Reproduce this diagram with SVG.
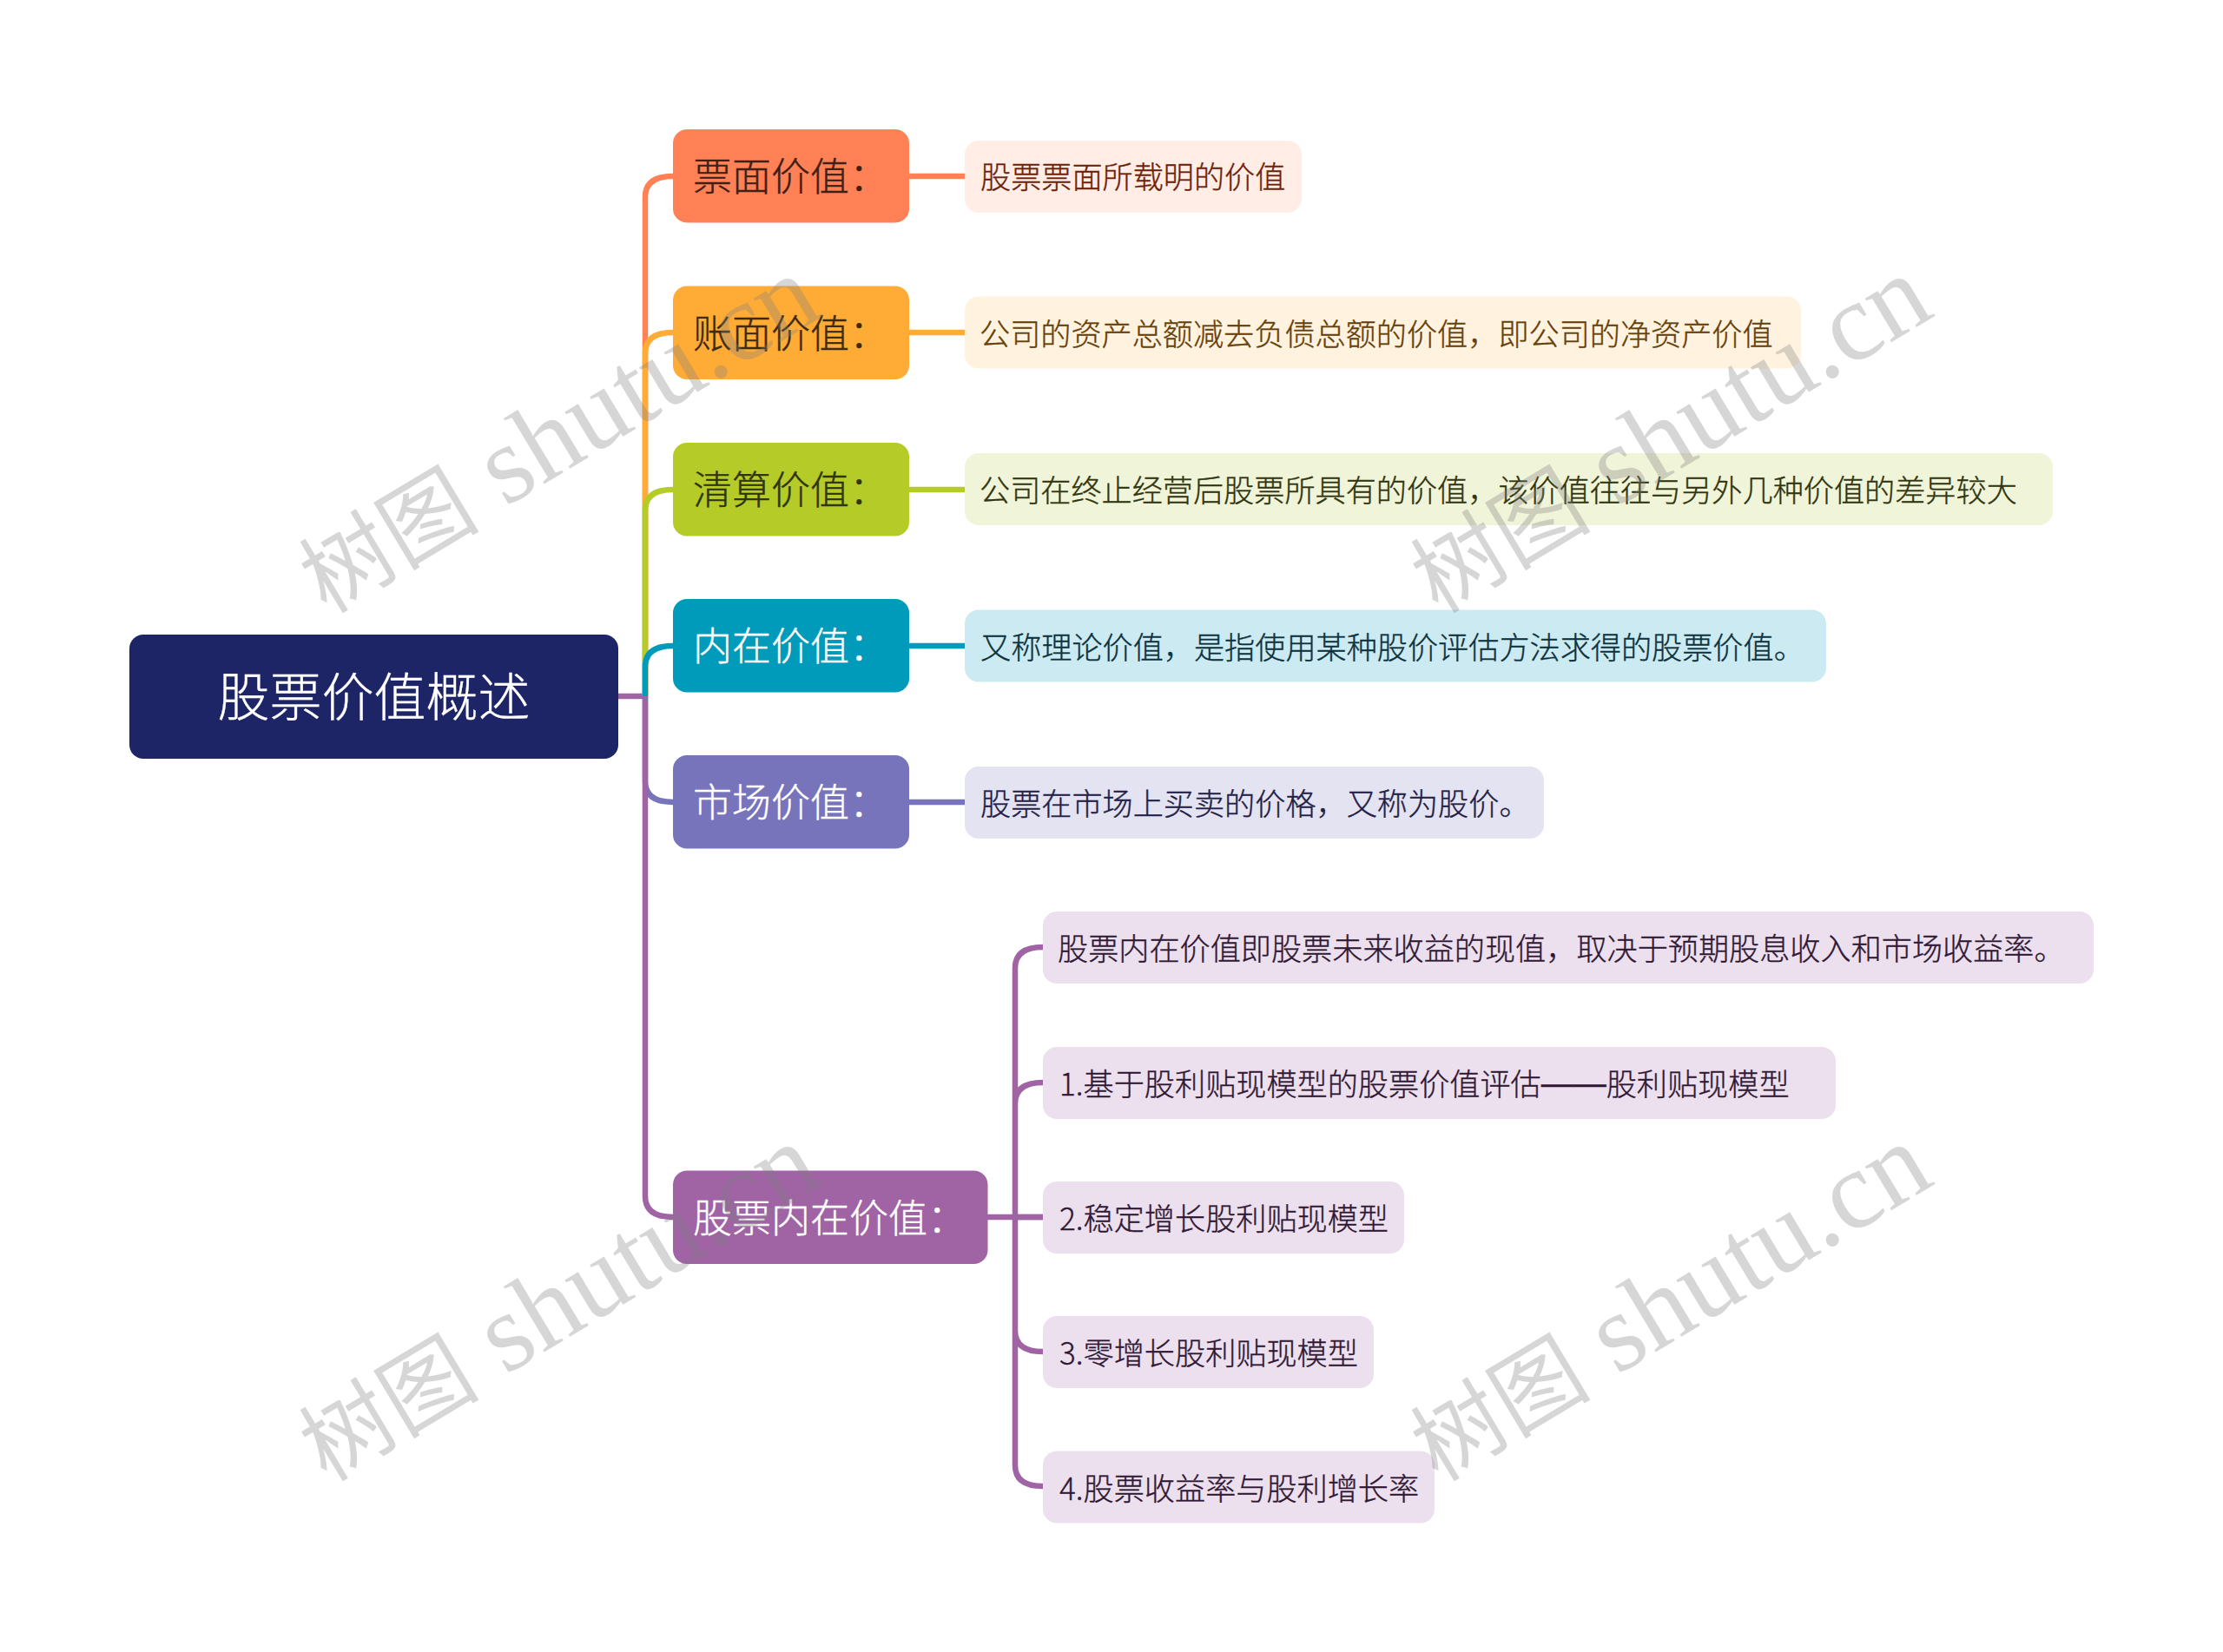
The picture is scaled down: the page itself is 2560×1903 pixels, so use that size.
<svg xmlns="http://www.w3.org/2000/svg" width="2560" height="1903" viewBox="0 0 2560 1903">
<style>
text{font-family:"Noto Sans CJK SC","Noto Sans",sans-serif;font-weight:300;dominant-baseline:central;stroke-width:.35px}
.l1{font-size:45px;stroke:currentColor}.l2{font-size:35.15px}.root{font-size:60px;fill:#fff;stroke:#fff}
.l2{stroke:currentColor}
.c{fill:none;stroke-width:6.5}
.dash{font-family:"Liberation Sans",sans-serif;font-size:37.5px}
.wm{font-family:"Liberation Serif",serif;font-size:128px;fill:#808080;fill-opacity:.32;font-weight:400;dominant-baseline:auto;stroke-width:0}
.wm tspan{font-family:"Noto Sans CJK SC",serif;font-size:104px;font-weight:400}
</style>
<rect width="2560" height="1903" fill="#fff"/>
<g id="connectors">
<path class="c" stroke="#A064A5" d="M712 802H741"/>
<path class="c" stroke="#FF8155" d="M743 802V227Q743 203 775 203M1047 203H1111"/>
<path class="c" stroke="#FFAC37" d="M743 802V407Q743 383 775 383M1047 383H1111"/>
<path class="c" stroke="#B5CB27" d="M743 802V588Q743 564 775 564M1047 564H1111"/>
<path class="c" stroke="#009ABA" d="M743 802V768Q743 744 775 744M1047 744H1111"/>
<path class="c" stroke="#7874BB" d="M743 802V900Q743 924 775 924M1047 924H1111"/>
<path class="c" stroke="#A064A5" d="M743 802V1378Q743 1402 775 1402M1137 1402H1201"/>
<path class="c" stroke="#A064A5" d="M1169 1402V1115Q1169 1091 1201 1091M1169 1402V1271Q1169 1247 1201 1247M1169 1402H1201M1169 1402V1533Q1169 1557 1201 1557M1169 1402V1688Q1169 1712 1201 1712"/>
</g>
<g id="root"><rect x="149" y="731" width="563" height="143" rx="16" fill="#1E2566"/><text class="root" x="430.500" y="798" text-anchor="middle">股票价值概述</text></g>
<g id="n1"><rect x="775" y="149" width="272" height="107.500" rx="16" fill="#FF8155"/><text class="l1" x="798" y="200" color="#3E2015" fill="#3E2015">票面价值：</text></g>
<g id="n1a"><rect x="1111" y="162" width="388" height="83" rx="16" fill="#FFEDE6"/><text class="l2" x="1129" y="201.500" color="#6E1F08" fill="#6E1F08">股票票面所载明的价值</text></g>
<g id="n2"><rect x="775" y="329.500" width="272" height="107.500" rx="16" fill="#FFAC37"/><text class="l1" x="798" y="381" color="#3E2A0E" fill="#3E2A0E">账面价值：</text></g>
<g id="n2a"><rect x="1111" y="341.500" width="963" height="83" rx="16" fill="#FFF3E0"/><text class="l2" x="1128" y="382" color="#673F08" fill="#673F08">公司的资产总额减去负债总额的价值，即公司的净资产价值</text></g>
<g id="n3"><rect x="775" y="510" width="272" height="107.500" rx="16" fill="#B5CB27"/><text class="l1" x="798" y="561" color="#30350F" fill="#30350F">清算价值：</text></g>
<g id="n3a"><rect x="1111" y="522" width="1253" height="83" rx="16" fill="#F0F4D8"/><text class="l2" x="1128" y="562.500" color="#30350F" fill="#30350F">公司在终止经营后股票所具有的价值，该价值往往与另外几种价值的差异较大</text></g>
<g id="n4"><rect x="775" y="690" width="272" height="107.500" rx="16" fill="#009ABA"/><text class="l1" x="798" y="741" fill="#fff" color="#fff">内在价值：</text></g>
<g id="n4a"><rect x="1111" y="702.500" width="992" height="83" rx="16" fill="#CCEAF2"/><text class="l2" x="1129" y="743" color="#0D323D" fill="#0D323D">又称理论价值，是指使用某种股价评估方法求得的股票价值。</text></g>
<g id="n5"><rect x="775" y="870" width="272" height="107.500" rx="16" fill="#7874BB"/><text class="l1" x="798" y="921" fill="#fff" color="#fff">市场价值：</text></g>
<g id="n5a"><rect x="1111" y="883" width="667" height="83" rx="16" fill="#E4E3F1"/><text class="l2" x="1129" y="923.500" color="#222046" fill="#222046">股票在市场上买卖的价格，又称为股价。</text></g>
<g id="n6"><rect x="775" y="1348.500" width="362.500" height="107.500" rx="16" fill="#A064A5"/><text class="l1" x="798" y="1400" fill="#fff" color="#fff">股票内在价值：</text></g>
<g id="n6a"><rect x="1201" y="1050" width="1210" height="83" rx="16" fill="#ECE0EE"/><text class="l2" x="1218" y="1090.500" color="#301834" fill="#301834">股票内在价值即股票未来收益的现值，取决于预期股息收入和市场收益率。</text></g>
<g id="n6b"><rect x="1201" y="1206" width="913" height="83" rx="16" fill="#ECE0EE"/><text class="l2" x="1220" y="1246.500" color="#301834" fill="#301834">1.基于股利贴现模型的股票价值评估<tspan class="dash">——</tspan>股利贴现模型</text></g>
<g id="n6c"><rect x="1201" y="1361" width="416" height="83" rx="16" fill="#ECE0EE"/><text class="l2" x="1220" y="1401.500" color="#301834" fill="#301834">2.稳定增长股利贴现模型</text></g>
<g id="n6d"><rect x="1201" y="1516" width="381" height="83" rx="16" fill="#ECE0EE"/><text class="l2" x="1220" y="1556.500" color="#301834" fill="#301834">3.零增长股利贴现模型</text></g>
<g id="n6e"><rect x="1201" y="1671.500" width="451" height="83" rx="16" fill="#ECE0EE"/><text class="l2" x="1220" y="1712" color="#301834" fill="#301834">4.股票收益率与股利增长率</text></g>
<g id="watermarks">
<text class="wm" transform="translate(376 708) rotate(-31)"><tspan>树图</tspan> shutu.cn</text>
<text class="wm" transform="translate(1656 708) rotate(-31)"><tspan>树图</tspan> shutu.cn</text>
<text class="wm" transform="translate(376 1708) rotate(-31)"><tspan>树图</tspan> shutu.cn</text>
<text class="wm" transform="translate(1656 1708) rotate(-31)"><tspan>树图</tspan> shutu.cn</text>
</g>
</svg>
